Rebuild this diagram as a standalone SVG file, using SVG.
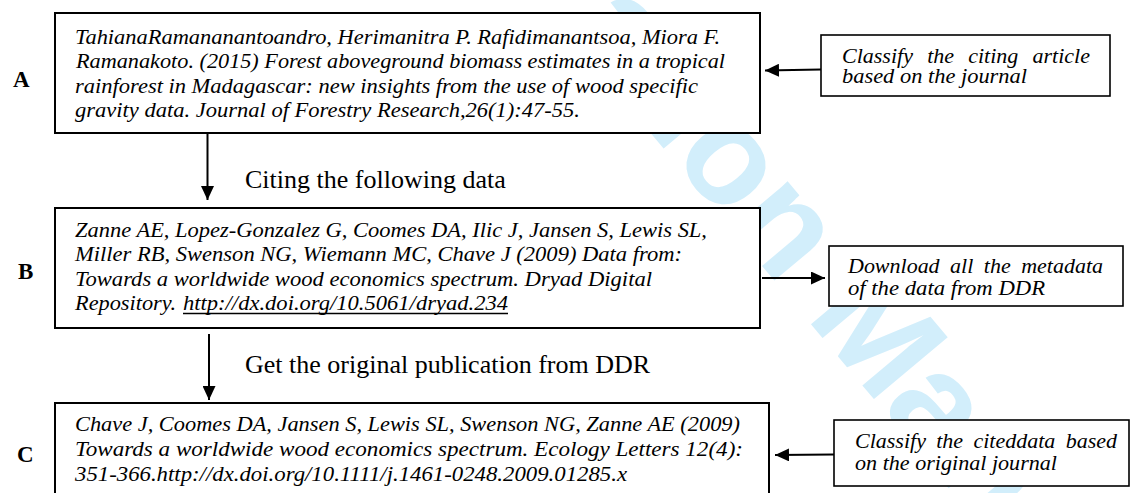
<svg xmlns="http://www.w3.org/2000/svg" width="1131" height="493" viewBox="0 0 1131 493">
  <style>
    .box { fill: #ffffff; stroke: #000000; stroke-width: 2; }
    .sbox { fill: #ffffff; stroke: #000000; stroke-width: 1.6; }
    .it { font-family: "Liberation Serif", "Times New Roman", serif; font-style: italic; font-size: 22px; fill: #000000; }
    .lbl { font-family: "Liberation Serif", "Times New Roman", serif; font-weight: bold; font-size: 23px; fill: #000000; }
    .cap { font-family: "Liberation Serif", "Times New Roman", serif; font-size: 26px; fill: #000000; }
    .wm { font-family: "Liberation Sans", Arial, sans-serif; font-weight: bold; font-size: 140px; fill: #D2EEFB; }
    .conn { stroke: #000000; stroke-width: 2; fill: none; }
  </style>
  <defs>
    <marker id="arr" viewBox="0 0 14 13" refX="14" refY="6.5" markerWidth="14" markerHeight="13" markerUnits="userSpaceOnUse" orient="auto">
      <path d="M0,0 L14,6.5 L0,13 Z" fill="#000000"/>
    </marker>
  </defs>
  <rect x="0" y="0" width="1131" height="493" fill="#ffffff"/>

  <g id="watermark">
    <text class="wm" transform="translate(565,31) rotate(50)">ation Manag</text>
  </g>

  <g id="node-A">
    <rect class="box" x="55" y="13" width="705" height="120"/>
    <text class="it" x="75" y="43.5" textLength="645" lengthAdjust="spacingAndGlyphs">TahianaRamananantoandro, Herimanitra P. Rafidimanantsoa, Miora F.</text>
    <text class="it" x="76" y="68" textLength="649" lengthAdjust="spacingAndGlyphs">Ramanakoto. (2015) Forest aboveground biomass estimates in a tropical</text>
    <text class="it" x="75" y="92.5" textLength="623" lengthAdjust="spacingAndGlyphs">rainforest in Madagascar: new insights from the use of wood specific</text>
    <text class="it" x="75" y="117" textLength="505" lengthAdjust="spacingAndGlyphs">gravity data. Journal of Forestry Research,26(1):47-55.</text>
  </g>
  <g id="label-A"><text class="lbl" x="13" y="87">A</text></g>

  <g id="node-B">
    <rect class="box" x="55" y="208" width="705" height="120"/>
    <text class="it" x="75" y="237" textLength="632" lengthAdjust="spacingAndGlyphs">Zanne AE, Lopez-Gonzalez G, Coomes DA, Ilic J, Jansen S, Lewis SL,</text>
    <text class="it" x="75" y="261" textLength="607" lengthAdjust="spacingAndGlyphs">Miller RB, Swenson NG, Wiemann MC, Chave J (2009) Data from:</text>
    <text class="it" x="75" y="285.5" textLength="577" lengthAdjust="spacingAndGlyphs">Towards a worldwide wood economics spectrum. Dryad Digital</text>
    <text class="it" x="75" y="310" textLength="101" lengthAdjust="spacingAndGlyphs">Repository.</text>
    <text class="it" x="183" y="310" textLength="325" lengthAdjust="spacingAndGlyphs">http://dx.doi.org/10.5061/dryad.234</text>
    <line x1="183" y1="313.5" x2="508" y2="313.5" stroke="#000000" stroke-width="1.3"/>
  </g>
  <g id="label-B"><text class="lbl" x="18" y="279">B</text></g>

  <g id="node-C">
    <rect class="box" x="55" y="403" width="714" height="110"/>
    <text class="it" x="75" y="431" textLength="665" lengthAdjust="spacingAndGlyphs">Chave J, Coomes DA, Jansen S, Lewis SL, Swenson NG, Zanne AE (2009)</text>
    <text class="it" x="75" y="456" textLength="668" lengthAdjust="spacingAndGlyphs">Towards a worldwide wood economics spectrum. Ecology Letters 12(4):</text>
    <text class="it" x="75" y="481" textLength="552" lengthAdjust="spacingAndGlyphs">351-366.http://dx.doi.org/10.1111/j.1461-0248.2009.01285.x</text>
  </g>
  <g id="label-C"><text class="lbl" x="17" y="462">C</text></g>

  <g id="node-classify-citing">
    <rect class="sbox" x="821" y="35" width="289" height="61"/>
    <text class="it"><tspan x="842" y="63" word-spacing="8.7" textLength="248" lengthAdjust="spacingAndGlyphs">Classify the citing article</tspan><tspan x="842" y="83" textLength="185" lengthAdjust="spacingAndGlyphs">based on the journal</tspan></text>
  </g>

  <g id="node-download">
    <rect class="sbox" x="829" y="246" width="294" height="60"/>
    <text class="it"><tspan x="848" y="273" word-spacing="5" textLength="255" lengthAdjust="spacingAndGlyphs">Download all the metadata</tspan><tspan x="848" y="295" textLength="197" lengthAdjust="spacingAndGlyphs">of the data from DDR</tspan></text>
  </g>

  <g id="node-classify-cited">
    <rect class="sbox" x="834" y="420" width="295" height="66"/>
    <text class="it"><tspan x="855" y="448" word-spacing="4.8" textLength="262" lengthAdjust="spacingAndGlyphs">Classify the citeddata based</tspan><tspan x="855" y="470" textLength="202" lengthAdjust="spacingAndGlyphs">on the original journal</tspan></text>
  </g>

  <g id="connectors">
    <line class="conn" x1="207.5" y1="133" x2="207.5" y2="200" marker-end="url(#arr)"/>
    <text class="cap" x="245" y="188">Citing the following data</text>
    <line class="conn" x1="209" y1="334" x2="209" y2="400" marker-end="url(#arr)"/>
    <text class="cap" x="245" y="373">Get the original publication from DDR</text>
    <line class="conn" x1="821" y1="69.5" x2="765" y2="70.5" marker-end="url(#arr)"/>
    <line class="conn" x1="762" y1="278" x2="825" y2="278" marker-end="url(#arr)"/>
    <line class="conn" x1="834" y1="454.5" x2="775" y2="455" marker-end="url(#arr)"/>
  </g>
</svg>
